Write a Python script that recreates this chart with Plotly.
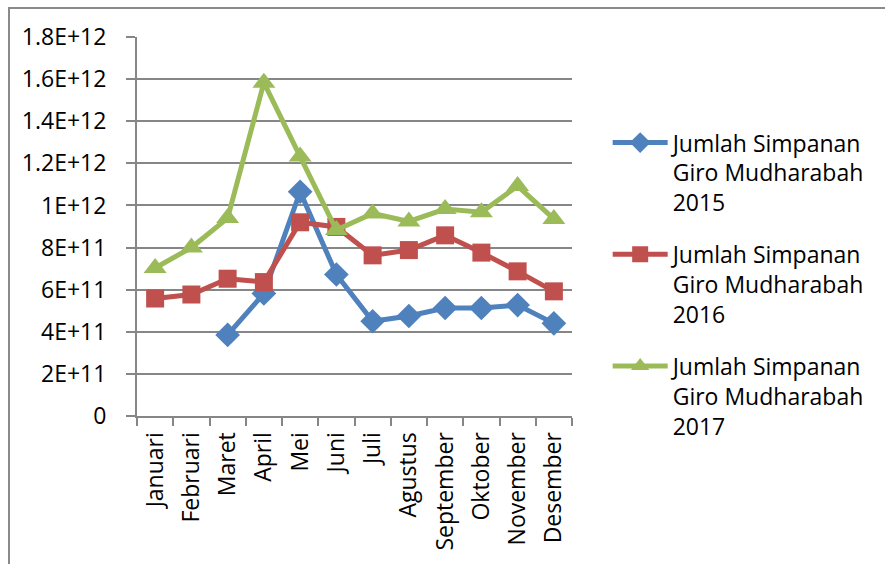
import plotly.graph_objects as go

months = ["Januari", "Februari", "Maret", "April", "Mei", "Juni", "Juli",
          "Agustus", "September", "Oktober", "November", "Desember"]
s2015 = [None, None, 3.85e11, 5.82e11, 1.065e12, 6.72e11, 4.50e11, 4.75e11,
         5.13e11, 5.13e11, 5.27e11, 4.40e11]
s2016 = [5.58e11, 5.77e11, 6.52e11, 6.36e11, 9.20e11, 8.98e11, 7.63e11,
         7.88e11, 8.58e11, 7.76e11, 6.87e11, 5.92e11]
s2017 = [7.03e11, 8.00e11, 9.40e11, 1.583e12, 1.232e12, 8.83e11, 9.62e11,
         9.24e11, 9.83e11, 9.68e11, 1.092e12, 9.36e11]
names = ["Jumlah Simpanan<br>Giro Mudharabah<br>2015",
         "Jumlah Simpanan<br>Giro Mudharabah<br>2016",
         "Jumlah Simpanan<br>Giro Mudharabah<br>2017"]
colors = ["#4F81BD", "#C0504D", "#9BBB59"]
symbols = ["diamond", "square", "triangle-up"]
sizes = [19, 18, 20]
tickvals = [0, 2e11, 4e11, 6e11, 8e11, 1e12, 1.2e12, 1.4e12, 1.6e12, 1.8e12]
ticktext = ["0", "2E+11", "4E+11", "6E+11", "8E+11", "1E+12", "1.2E+12",
            "1.4E+12", "1.6E+12", "1.8E+12"]

fig = go.Figure()
for i, (data, name, c, sym, sz) in enumerate(zip([s2015, s2016, s2017], names, colors, symbols, sizes)):
    fig.add_trace(go.Scatter(
        x=months, y=data, name=name, mode="lines+markers",
        legendgroup=f"g{i}",
        line=dict(color=c, width=5),
        marker=dict(symbol=sym, size=sz, color=c),
        connectgaps=False,
    ))

font = "Open Sans"
fs = 23
fig.update_layout(
    width=885, height=564,
    margin=dict(l=137, r=313, t=37, b=148),
    paper_bgcolor="white", plot_bgcolor="white",
    font=dict(family=font, size=fs, color="black"),
    showlegend=True,
    legend=dict(x=1.082, y=0.778, xanchor="left", yanchor="top",
                font=dict(family=font, size=fs, color="black"),
                valign="top", tracegroupgap=19, traceorder="grouped",
                itemwidth=55,
                bgcolor="rgba(0,0,0,0)"),
    xaxis=dict(type="category", tickangle=-90, showgrid=False,
               showline=True, linecolor="#868686", linewidth=2,
               ticks="outside", tickson="boundaries", ticklen=8,
               tickcolor="#868686", tickwidth=1.5,
               ticklabelstandoff=5,
               tickfont=dict(family=font, size=fs, color="black"),
               range=[-0.5, 11.5]),
    yaxis=dict(range=[0, 1.8e12], tickvals=tickvals, ticktext=ticktext,
               showgrid=True, gridcolor="#868686", gridwidth=2,
               showline=True, linecolor="#868686", linewidth=2,
               ticks="outside", ticklen=9, tickcolor="#868686", tickwidth=1.5,
               ticklabelstandoff=15,
               zeroline=False,
               tickfont=dict(family=font, size=fs, color="black")),
    shapes=[dict(type="rect", xref="paper", yref="paper",
                 x0=(9 - 137) / 435, x1=(900 - 137) / 435,
                 y0=(416 - 580) / 379, y1=(416 - 8) / 379,
                 line=dict(color="#8a8a8a", width=2), layer="below")],
)

fig.write_html("out.html")
